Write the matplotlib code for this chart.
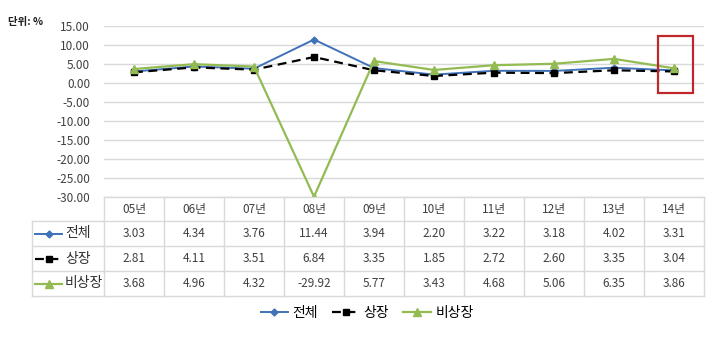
import matplotlib
matplotlib.use("Agg")
import matplotlib.pyplot as plt
from matplotlib.lines import Line2D
from matplotlib.patches import Rectangle

plt.rcParams["font.family"] = ["Noto Sans CJK KR", "DejaVu Sans"]

years = ["05년", "06년", "07년", "08년", "09년", "10년", "11년", "12년", "13년", "14년"]
total = [3.03, 4.34, 3.76, 11.44, 3.94, 2.20, 3.22, 3.18, 4.02, 3.31]
listed = [2.81, 4.11, 3.51, 6.84, 3.35, 1.85, 2.72, 2.60, 3.35, 3.04]
unlisted = [3.68, 4.96, 4.32, -29.92, 5.77, 3.43, 4.68, 5.06, 6.35, 3.86]
series_names = ["전체", "상장", "비상장"]
yticks = [15, 10, 5, 0, -5, -10, -15, -20, -25, -30]

W, H = 720, 337
_C = {
    "total": "#3f72b8",
    "listed": "#000000",
    "unlisted": "#93bb52",
    "grid": "#d9d9d9",
    "text": "#404040",
    "box": "#c0272d",
}
styles = [
    dict(color=_C["total"], ls="-", lw=1.4, marker="D", ms=3.5),
    dict(color=_C["listed"], ls=(0, (4, 2.5)), lw=1.6, marker="s", ms=4.5),
    dict(color=_C["unlisted"], ls="-", lw=1.6, marker="^", ms=5.5),
]


def fx(px):
    return px / W


def fy(py):
    return 1 - py / H


fig = plt.figure(figsize=(W / 100, H / 100), dpi=100)

# ── plot area ─────────────────────────────────────────────────────────────────
x0, x1, ytop, ybot = 104, 704, 26, 197
ax = fig.add_axes([fx(x0), fy(ybot), fx(x1 - x0), (ybot - ytop) / H])
xs = [i + 0.5 for i in range(len(years))]
for vals, st in zip([total, listed, unlisted], styles):
    ax.plot(xs, vals, **st, zorder=3)
ax.set_xlim(0, len(years))
ax.set_ylim(-30, 15)
ax.set_yticks(yticks)
ax.set_yticklabels([f"{v:.2f}" for v in yticks], fontsize=8.5, color=_C["text"])
ax.set_xticks([])
ax.tick_params(axis="y", length=0, pad=10)
ax.grid(axis="y", color=_C["grid"], lw=1)
for s in ax.spines.values():
    s.set_visible(False)
ax.set_axisbelow(True)

fig.text(fx(8), fy(22), "단위: %", fontsize=7.5, color="#202020", va="center",
         fontweight="bold")

# ── data table under the plot ─────────────────────────────────────────────────
row_edges = [197, 221, 246, 271, 296]
col_w = (x1 - x0) / len(years)
lab_x = 32
grid_kw = dict(color=_C["grid"], lw=1, transform=fig.transFigure)

fig.add_artist(Line2D([fx(x0), fx(x1)], [fy(row_edges[0])] * 2, **grid_kw))
for r in row_edges[1:]:
    fig.add_artist(Line2D([fx(lab_x), fx(x1)], [fy(r)] * 2, **grid_kw))
for i in range(len(years) + 1):
    xp = x0 + i * col_w
    fig.add_artist(Line2D([fx(xp)] * 2, [fy(row_edges[0]), fy(row_edges[-1])], **grid_kw))
fig.add_artist(Line2D([fx(lab_x)] * 2, [fy(row_edges[1]), fy(row_edges[-1])], **grid_kw))

for i, yr in enumerate(years):
    cx = x0 + (i + 0.5) * col_w
    fig.text(fx(cx), fy((row_edges[0] + row_edges[1]) / 2), yr,
             ha="center", va="center", fontsize=8.5, color=_C["text"])
for r, (vals, name, st) in enumerate(zip([total, listed, unlisted], series_names, styles)):
    cy = (row_edges[r + 1] + row_edges[r + 2]) / 2
    for i, v in enumerate(vals):
        cx = x0 + (i + 0.5) * col_w
        fig.text(fx(cx), fy(cy), f"{v:.2f}", ha="center", va="center",
                 fontsize=8.5, color=_C["text"])
    fig.add_artist(Line2D([fx(35), fx(62)], [fy(cy)] * 2, color=st["color"],
                          ls=st["ls"], lw=st["lw"], transform=fig.transFigure))
    fig.add_artist(Line2D([fx(48.5)], [fy(cy)], color=st["color"], marker=st["marker"],
                          ms=st["ms"], transform=fig.transFigure))
    fig.text(fx(65), fy(cy), name, ha="left", va="center", fontsize=10, color="#303030")

# ── legend ────────────────────────────────────────────────────────────────────
handles = [Line2D([], [], **st) for st in styles]
fig.legend(handles, series_names, loc="center", bbox_to_anchor=(fx(367), fy(313)),
           ncol=3, frameon=False, fontsize=10, handlelength=2.0, columnspacing=1.0,
           handletextpad=0.3)

# highlight box around the last point
fig.add_artist(Rectangle((fx(658), fy(93)), fx(35), (93 - 36) / H, fill=False,
                         ec=_C["box"], lw=1.6, transform=fig.transFigure))

fig.savefig("out.png", dpi=100)
